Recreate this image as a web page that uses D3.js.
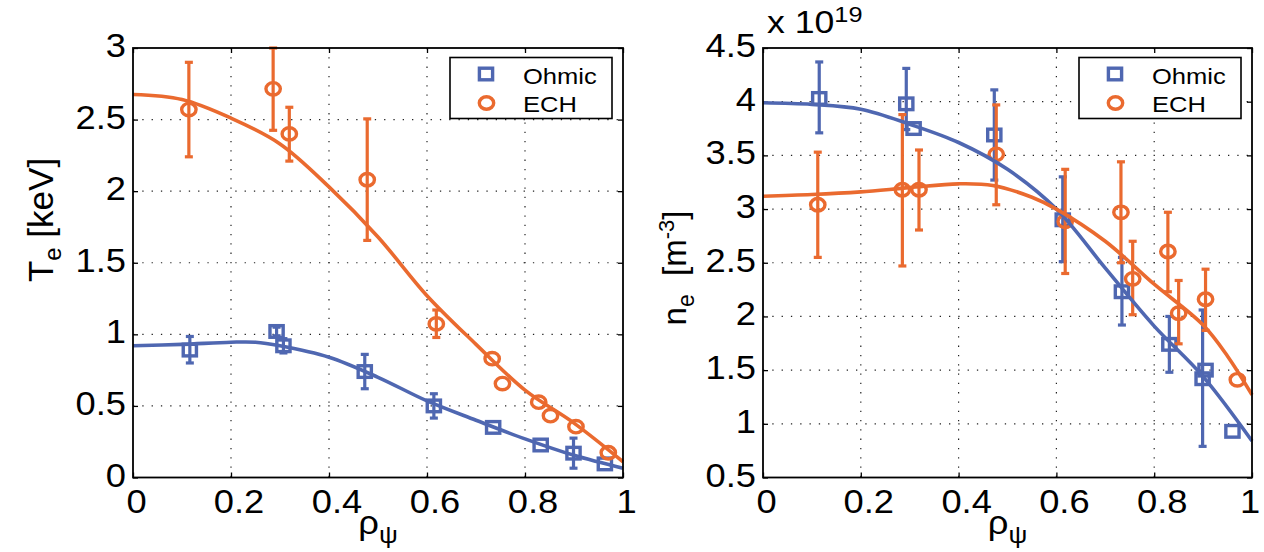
<!DOCTYPE html>
<html><head><meta charset="utf-8">
<script src="https://cdn.jsdelivr.net/npm/d3@7"></script>
<style>
body{margin:0;background:#fff}
svg{display:block}
text{font-family:"Liberation Sans",Arial,Helvetica,sans-serif;fill:#000;white-space:pre}
</style>
</head><body>
<svg id="chart" width="1264" height="552"></svg>
<script>
// ---------------- data ----------------
const xTicks = [0, 0.2, 0.4, 0.6, 0.8, 1];
const xTickLabels = ["0", "0.2", "0.4", "0.6", "0.8", "1"];
const teTicks = [0, 0.5, 1, 1.5, 2, 2.5, 3];
const teTickLabels = ["0", "0.5", "1", "1.5", "2", "2.5", "3"];
const neTicks = [0.5, 1, 1.5, 2, 2.5, 3, 3.5, 4, 4.5];
const neTickLabels = ["0.5", "1", "1.5", "2", "2.5", "3", "3.5", "4", "4.5"];
const seriesNames = ["Ohmic", "ECH"];

// measured points: [rho, value, errLow, errHigh] (null = no error bar)
const teOhmic = [
  [0.116, 0.89, 0.80, 0.985], [0.293, 1.02, 0.99, 1.05], [0.307, 0.92, 0.87, 0.97],
  [0.473, 0.74, 0.62, 0.86], [0.614, 0.50, 0.415, 0.585], [0.735, 0.35, null, null],
  [0.832, 0.227, null, null], [0.899, 0.17, 0.065, 0.275], [0.963, 0.095, null, null]
];
const teECH = [
  [0.114, 2.57, 2.24, 2.90], [0.286, 2.715, 2.425, 3.0], [0.319, 2.40, 2.21, 2.586],
  [0.478, 2.08, 1.656, 2.505], [0.619, 1.073, 0.978, 1.17], [0.733, 0.83, null, null],
  [0.754, 0.656, null, null], [0.828, 0.526, null, null], [0.852, 0.432, null, null],
  [0.904, 0.355, null, null], [0.970, 0.173, null, null]
];
// fitted profiles: [rho, value]
const teOhmicFit = [
  [0, 0.92], [0.1, 0.93], [0.2, 0.945], [0.25, 0.945], [0.3, 0.92], [0.4, 0.84],
  [0.5, 0.70], [0.6, 0.535], [0.7, 0.40], [0.8, 0.27], [0.9, 0.155], [1.0, 0.065]
];
const teECHFit = [
  [0, 2.675], [0.1, 2.64], [0.2, 2.51], [0.3, 2.33], [0.4, 2.03], [0.5, 1.68],
  [0.6, 1.27], [0.7, 0.93], [0.8, 0.61], [0.9, 0.38], [1.0, 0.11]
];

const neOhmic = [
  [0.115, 4.03, 3.71, 4.37], [0.293, 3.98, 3.74, 4.31], [0.308, 3.75, null, null],
  [0.473, 3.69, 3.27, 4.11], [0.613, 2.90, 2.51, 3.30], [0.734, 2.23, 1.92, 2.55],
  [0.831, 1.74, 1.48, 2.0], [0.899, 1.42, 0.79, 2.06], [0.905, 1.50, null, null],
  [0.96, 0.93, null, null]
];
const neECH = [
  [0.112, 3.04, 2.55, 3.53], [0.285, 3.18, 2.47, 3.88], [0.319, 3.18, 2.805, 3.55],
  [0.477, 3.51, 3.04, 3.97], [0.618, 2.885, 2.40, 3.37], [0.732, 2.97, 2.50, 3.44],
  [0.756, 2.35, 2.016, 2.70], [0.828, 2.605, 2.23, 2.97], [0.85, 2.03, 1.745, 2.335],
  [0.905, 2.16, 1.87, 2.44], [0.97, 1.41, null, null]
];
const neOhmicFit = [
  [0, 3.99], [0.1, 3.975], [0.2, 3.93], [0.3, 3.79], [0.4, 3.62], [0.5, 3.37],
  [0.6, 3.0], [0.7, 2.45], [0.8, 1.91], [0.9, 1.44], [1.0, 0.84]
];
const neECHFit = [
  [0, 3.12], [0.1, 3.135], [0.2, 3.16], [0.3, 3.2], [0.4, 3.235], [0.47, 3.22],
  [0.55, 3.11], [0.6, 3.0], [0.7, 2.7], [0.8, 2.3], [0.9, 1.92], [0.95, 1.63], [1.0, 1.27]
];

// ---------------- drawing ----------------
const BLUE = "#4f67b1", ORANGE = "#ea6a2f";
const SX = 1.1; // horizontal stretch of the original rendering
const svg = d3.select("#chart");
const TOP = 48, BOTTOM = 477.5;

function stretchedText(g, x, y, anchor, size, str, sx) {
  return g.append("text")
    .attr("transform", `translate(${x},${y}) scale(${sx || SX},1)`)
    .attr("text-anchor", anchor).attr("font-size", size).text(str);
}

function drawMarker(g, type, cx, cy, color) {
  if (type === "square") {
    g.append("rect").attr("x", cx - 6.6).attr("y", cy - 5.8).attr("width", 13.2).attr("height", 11.6)
      .attr("fill", "none").attr("stroke", color).attr("stroke-width", 3.4);
  } else {
    g.append("ellipse").attr("cx", cx).attr("cy", cy).attr("rx", 7.2).attr("ry", 6.2)
      .attr("fill", "none").attr("stroke", color).attr("stroke-width", 3.4);
  }
}

function panel(cfg) {
  const x = d3.scaleLinear().domain([0, 1]).range([cfg.x0, cfg.x1]);
  const y = d3.scaleLinear().domain(cfg.yDomain).range([BOTTOM, TOP]);
  const g = svg.append("g");

  // dotted grid
  const grid = g.append("g").attr("stroke", "#222").attr("stroke-width", 1.2).attr("stroke-dasharray", "1.3,8");
  xTicks.slice(1, -1).forEach(t => grid.append("line").attr("x1", x(t)).attr("x2", x(t)).attr("y1", TOP).attr("y2", BOTTOM));
  cfg.yTicks.slice(1, -1).forEach(t => grid.append("line").attr("x1", cfg.x0).attr("x2", cfg.x1).attr("y1", y(t)).attr("y2", y(t)));

  // inward ticks on all sides via d3 axes
  const tl = 5;
  g.append("g").attr("transform", `translate(0,${BOTTOM})`)
    .call(d3.axisTop(x).tickValues(xTicks).tickSize(tl).tickFormat(""))
    .call(a => a.select(".domain").remove());
  g.append("g").attr("transform", `translate(0,${TOP})`)
    .call(d3.axisBottom(x).tickValues(xTicks).tickSize(tl).tickFormat(""))
    .call(a => a.select(".domain").remove());
  g.append("g").attr("transform", `translate(${cfg.x0},0)`)
    .call(d3.axisRight(y).tickValues(cfg.yTicks).tickSize(tl).tickFormat(""))
    .call(a => a.select(".domain").remove());
  g.append("g").attr("transform", `translate(${cfg.x1},0)`)
    .call(d3.axisLeft(y).tickValues(cfg.yTicks).tickSize(tl).tickFormat(""))
    .call(a => a.select(".domain").remove());
  g.selectAll(".tick line").attr("stroke", "#000").attr("stroke-width", 1.3);

  // tick labels
  xTicks.forEach((t, i) => {
    const lab = xTickLabels[i];
    let dx = lab.length === 1 ? 3.5 : 8;
    if (i === xTicks.length - 1) dx = cfg.lastDx;
    stretchedText(g, x(t) + dx, 513, "middle", 33, lab);
  });
  cfg.yTicks.forEach((t, i) => {
    stretchedText(g, cfg.x0 - 7, y(t) + 9, "end", 33, cfg.yTickLabels[i]);
  });

  // error bars + markers
  const series = [[cfg.ohmic, "square", BLUE], [cfg.ech, "circle", ORANGE]];
  series.forEach(([data, type, color]) => {
    const eg = g.append("g").attr("stroke", color).attr("stroke-width", 3.2);
    data.forEach(d => {
      if (d[2] == null) return;
      const px = x(d[0]);
      eg.append("line").attr("x1", px).attr("x2", px).attr("y1", y(d[2])).attr("y2", y(d[3]));
      eg.append("line").attr("x1", px - 4).attr("x2", px + 4).attr("y1", y(d[2])).attr("y2", y(d[2]));
      eg.append("line").attr("x1", px - 4).attr("x2", px + 4).attr("y1", y(d[3])).attr("y2", y(d[3]));
    });
    const mg = g.append("g");
    data.forEach(d => drawMarker(mg, type, x(d[0]), y(d[1]), color));
  });

  // fit curves
  const line = d3.line().x(d => x(d[0])).y(d => y(d[1])).curve(d3.curveCatmullRom.alpha(0.5));
  g.append("path").attr("d", line(cfg.ohmicFit)).attr("fill", "none").attr("stroke", BLUE).attr("stroke-width", 3.6);
  g.append("path").attr("d", line(cfg.echFit)).attr("fill", "none").attr("stroke", ORANGE).attr("stroke-width", 3.6);

  // box
  g.append("rect").attr("x", cfg.x0).attr("y", TOP).attr("width", cfg.x1 - cfg.x0).attr("height", BOTTOM - TOP)
    .attr("fill", "none").attr("stroke", "#000").attr("stroke-width", 1.8);

  // legend
  const lx = cfg.x1 - 173, ly = 57.5;
  const lg = g.append("g");
  lg.append("rect").attr("x", lx).attr("y", ly).attr("width", 162).attr("height", 61)
    .attr("fill", "#fff").attr("stroke", "#000").attr("stroke-width", 1.6);
  drawMarker(lg, "square", lx + 36, ly + 16.5, BLUE);
  drawMarker(lg, "circle", lx + 36.5, ly + 45.5, ORANGE);
  stretchedText(lg, lx + 73, ly + 26, "start", 22, seriesNames[0], 1.16);
  stretchedText(lg, lx + 73, ly + 54, "start", 22, seriesNames[1], 1.16);

  // x label rho_psi
  const xl = g.append("text").attr("text-anchor", "middle")
    .attr("transform", `translate(${(cfg.x0 + cfg.x1) / 2},534) scale(${SX},1)`).attr("font-size", 33);
  xl.append("tspan").text("ρ");
  xl.append("tspan").attr("font-size", 24).attr("dy", 9).text("ψ");
  return g;
}

panel({
  x0: 133, x1: 623, yDomain: [0, 3], yTicks: teTicks, yTickLabels: teTickLabels,
  ohmic: teOhmic, ech: teECH, ohmicFit: teOhmicFit, echFit: teECHFit, lastDx: 3.5
});
panel({
  x0: 763, x1: 1252, yDomain: [0.5, 4.5], yTicks: neTicks, yTickLabels: neTickLabels,
  ohmic: neOhmic, ech: neECH, ohmicFit: neOhmicFit, echFit: neECHFit, lastDx: -2
});

// y labels
const yl1 = svg.append("text").attr("text-anchor", "middle").attr("font-size", 35)
  .attr("transform", "translate(53,220) rotate(-90)");
yl1.append("tspan").text("T");
yl1.append("tspan").attr("font-size", 24).attr("dy", 8).text("e");
yl1.append("tspan").attr("dy", -8).text(" [keV]");

const yl2 = svg.append("text").attr("text-anchor", "middle").attr("font-size", 33)
  .attr("transform", "translate(686,268) rotate(-90)");
yl2.append("tspan").text("n");
yl2.append("tspan").attr("font-size", 23).attr("dy", 8).text("e");
yl2.append("tspan").attr("dy", -8).text("  [m");
yl2.append("tspan").attr("font-size", 22).attr("dy", -12).text("-3");
yl2.append("tspan").attr("dy", 12).text("]");

// exponent
const ex = svg.append("text").attr("font-size", 31)
  .attr("transform", `translate(767,33) scale(1.15,1)`);
ex.append("tspan").text("x 10");
ex.append("tspan").attr("font-size", 22).attr("dy", -11).text("19");
</script>
</body></html>
